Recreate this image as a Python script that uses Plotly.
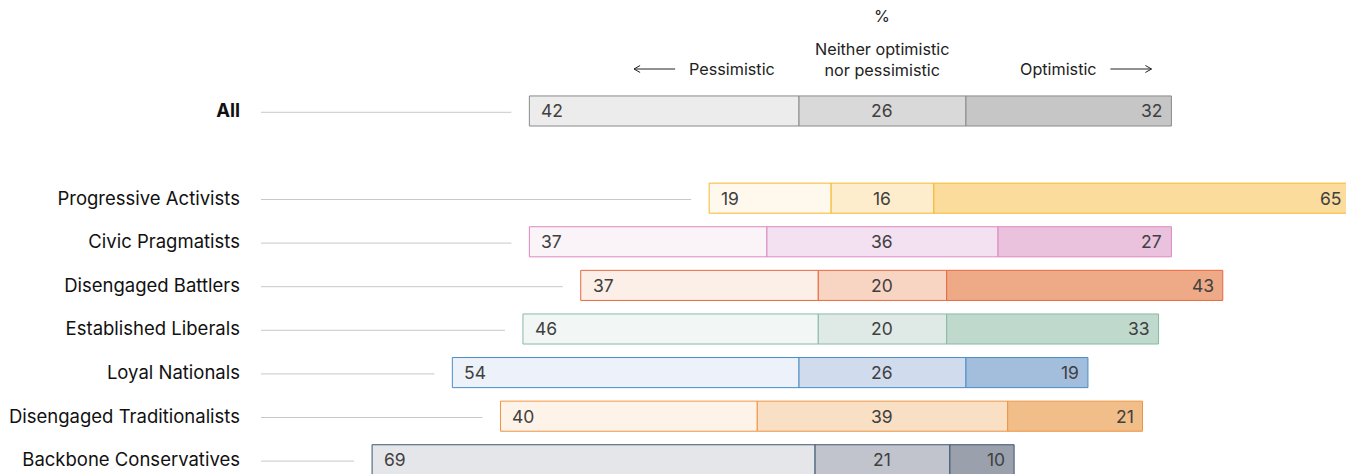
import plotly.graph_objects as go

# ---- data ----
categories = ["All", "Progressive Activists", "Civic Pragmatists", "Disengaged Battlers",
              "Established Liberals", "Loyal Nationals", "Disengaged Traditionalists",
              "Backbone Conservatives"]
pessimistic = [42, 19, 37, 37, 46, 54, 40, 69]
neither = [26, 16, 36, 20, 20, 26, 39, 21]
optimistic = [32, 65, 27, 43, 33, 19, 21, 10]

# ---- styles ----
pess_colors = ["#ececec", "#fff8ec", "#faf3f8", "#fcefe7", "#f2f6f4", "#edf1f9", "#fdf3e8", "#e5e6ea"]
neu_colors = ["#d9d9d9", "#fdedcc", "#f3e0f0", "#f8d5c3", "#dfe9e5", "#d0dcee", "#f9dfc4", "#c1c4cc"]
opt_colors = ["#c6c6c6", "#fbdc9d", "#eac2de", "#eeaa86", "#c0d9cd", "#a3bddc", "#f1bd89", "#9aa0ac"]
line_colors = ["#8a8a8a", "#f5b82e", "#dc88c0", "#e8673f", "#86bba6", "#4a8dc6", "#ee9440", "#3d5670"]

FONT = "Inter, 'Noto Sans', sans-serif"
# y positions: "All" on top, one empty row, then the segments
ypos = [0] + [i + 1 for i in range(1, len(categories))]

pess_base = [-(n / 2 + p) for p, n in zip(pessimistic, neither)]
neu_base = [-n / 2 for n in neither]
opt_base = [n / 2 for n in neither]

fig = go.Figure()
for vals, base, cols in [(pessimistic, pess_base, pess_colors),
                         (neither, neu_base, neu_colors),
                         (optimistic, opt_base, opt_colors)]:
    fig.add_trace(go.Bar(
        y=ypos, x=vals, base=base, orientation="h", width=0.69,
        marker=dict(color=cols, line=dict(color=line_colors, width=1)),
        hoverinfo="skip", showlegend=False,
    ))

xmin, xmax = -96.8, 73.44
ytop, ybot = -2.362, 8.326
numfont = dict(size=17.5, color="#404040", family=FONT)
annotations = []
shapes = []
for i, y in enumerate(ypos):
    left = pess_base[i]
    right = opt_base[i] + optimistic[i]
    annotations.append(dict(x=left, y=y, text=str(pessimistic[i]), xanchor="left", xshift=10,
                            showarrow=False, font=numfont))
    annotations.append(dict(x=0, y=y, text=str(neither[i]), xanchor="center",
                            showarrow=False, font=numfont))
    annotations.append(dict(x=right, y=y, text=str(optimistic[i]), xanchor="right", xshift=-7,
                            showarrow=False, font=numfont))
    shapes.append(dict(type="line", xref="x", yref="y", x0=xmin, x1=left - 2.8, y0=y + 0.03, y1=y + 0.03,
                       line=dict(color="#c8c8c8", width=1)))

hdr = dict(size=16.2, color="#222222", family=FONT)
yh = -0.963
annotations += [
    dict(x=0, y=-2.17, text="%", showarrow=False, font=hdr, xanchor="center"),
    dict(x=0, y=-1.18, text="Neither optimistic<br>nor pessimistic", showarrow=False, font=hdr,
         xanchor="center"),
    dict(x=-16.4, y=yh, text="Pessimistic", showarrow=False, font=hdr, xanchor="right"),
    dict(x=21.1, y=yh, text="Optimistic", showarrow=False, font=hdr, xanchor="left"),
]

# direction arrows (thin line with open head)
ax_dx, ah_dx, ah_dy = 6.4, 0.95, 0.08
lx = -38.7
rx = 41.9
shapes += [
    dict(type="path", xref="x", yref="y",
         path=f"M {lx + ax_dx} {yh} L {lx} {yh} M {lx + ah_dx} {yh - ah_dy} L {lx} {yh} L {lx + ah_dx} {yh + ah_dy}",
         line=dict(color="#222222", width=1)),
    dict(type="path", xref="x", yref="y",
         path=f"M {rx - ax_dx} {yh} L {rx} {yh} M {rx - ah_dx} {yh - ah_dy} L {rx} {yh} L {rx - ah_dx} {yh + ah_dy}",
         line=dict(color="#222222", width=1)),
]

ticktext = ["<b>All</b>"] + categories[1:]

fig.update_layout(
    width=1346, height=466,
    margin=dict(l=253, r=0, t=0, b=0),
    paper_bgcolor="white", plot_bgcolor="white",
    barmode="overlay",
    xaxis=dict(range=[xmin, xmax], visible=False, fixedrange=True),
    yaxis=dict(range=[ybot, ytop], tickvals=ypos, ticktext=ticktext, showgrid=False,
               zeroline=False, showline=False, ticks="", ticklabelstandoff=20,
               tickfont=dict(size=18.5, color="#111111", family=FONT), fixedrange=True),
    annotations=annotations, shapes=shapes,
    font=dict(family=FONT),
)

fig.write_html("out.html")
